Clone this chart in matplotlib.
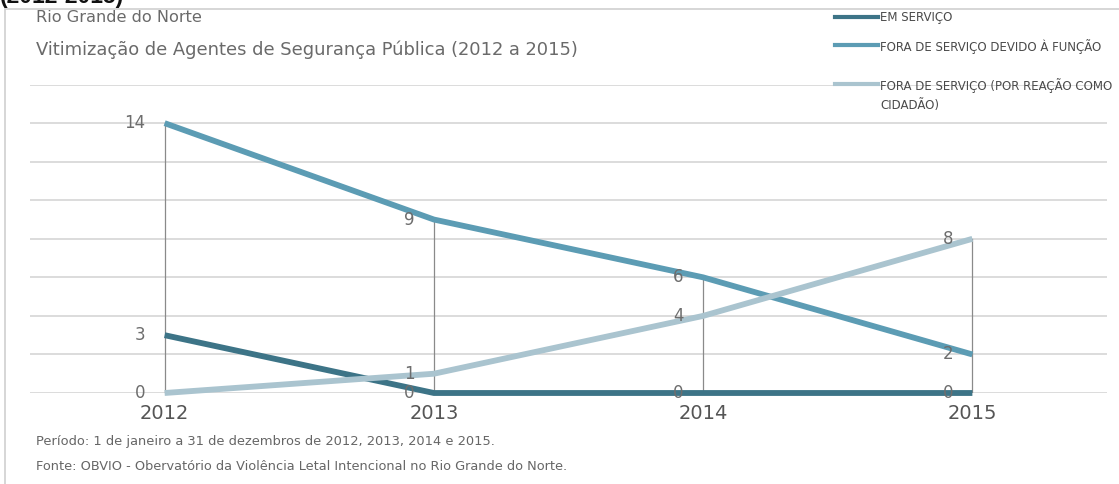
import matplotlib
matplotlib.use('Agg')
import matplotlib.pyplot as plt
import matplotlib.patches as patches
from matplotlib.lines import Line2D

# Data
years = [2012, 2013, 2014, 2015]
em_servico = [3, 0, 0, 0]
fora_funcao = [14, 9, 6, 2]
fora_cidadao = [0, 1, 4, 8]

series_names = ['EM SERVIÇO',
                'FORA DE SERVIÇO DEVIDO À FUNÇÃO',
                'FORA DE SERVIÇO (POR REAÇÃO COMO\nCIDADÃO)']
series_values = [em_servico, fora_funcao, fora_cidadao]
series_colors = ['#3d7487', '#5c9cb4', '#aac4cf']

plt.rcParams['font.family'] = ['DejaVu Sans']

W, H = 1119, 484
fig = plt.figure(figsize=(W / 100, H / 100), dpi=100)
fig.patch.set_facecolor('white')

# outer frame
fig.patches.append(patches.Rectangle((5 / W, -0.05), 1.2, 1 - 9 / H + 0.05,
                                     transform=fig.transFigure, fill=False,
                                     edgecolor='#d0d0d0', linewidth=1.2))

# heading clipped at the very top, as in the source image
fig.text(0, 1 - 3 / H, '(2012-2015)', fontsize=16.5, fontweight='bold',
         color='#111111', ha='left', va='baseline', family='Liberation Sans')

fig.text(36 / W, 1 - 18 / H, 'Rio Grande do Norte', fontsize=11.6,
         color='#6a6a6a', ha='left', va='center')
fig.text(36 / W, 1 - 50 / H,
         'Vitimização de Agentes de Segurança Pública (2012 a 2015)',
         fontsize=12.9, color='#6a6a6a', ha='left', va='center')

fig.text(36 / W, 1 - 442 / H,
         'Período: 1 de janeiro a 31 de dezembros de 2012, 2013, 2014 e 2015.',
         fontsize=9.4, color='#666666', ha='left', va='center')
fig.text(36 / W, 1 - 466 / H,
         'Fonte: OBVIO - Obervatório da Violência Letal Intencional no Rio Grande do Norte.',
         fontsize=9.3, color='#666666', ha='left', va='center')

# axes placed so that 0 -> y=393px, 16 -> y=84.6px
left, right = 30 / W, 1107 / W
bottom, top = (H - 393) / H, (H - 84.6) / H
ax = fig.add_axes([left, bottom, right - left, top - bottom])
ax.set_xlim(2011.5, 2015.5)
ax.set_ylim(0, 16)

for v in range(0, 17, 2):
    ax.axhline(v, color='#d9d9d9', linewidth=1.3, zorder=0)

# drop lines to the highest value each year
for i, yr in enumerate(years):
    top_val = max(s[i] for s in series_values)
    ax.plot([yr, yr], [0, top_val], color='#8a8a8a', linewidth=0.9, zorder=1)

for vals, col in zip(series_values, series_colors):
    ax.plot(years, vals, color=col, linewidth=4.2, solid_capstyle='butt',
            clip_on=False, zorder=3)
    for x, y in zip(years, vals):
        ax.annotate(str(y), (x, y), xytext=(-14, 0), textcoords='offset points',
                    ha='right', va='center', fontsize=12, color='#6d6d6d',
                    zorder=4)

ax.set_xticks(years)
ax.set_xticklabels([str(y) for y in years])
ax.tick_params(axis='x', length=0, pad=8, labelsize=14, labelcolor='#555555')
ax.set_yticks([])
for sp in ax.spines.values():
    sp.set_visible(False)
ax.patch.set_alpha(0)

# legend (manual, to keep the first-line alignment of the wrapped entry)
leg_y = [17, 45, 84]
for name, col, yp in zip(series_names, series_colors, leg_y):
    fy = 1 - yp / H
    fig.lines.append(Line2D([835 / W, 878 / W], [fy, fy], color=col,
                            linewidth=3, transform=fig.transFigure))
    fig.text(880 / W, fy + 6 / H, name, fontsize=8.5, color='#4a4a4a',
             ha='left', va='top', linespacing=1.6)

fig.savefig('out.png', dpi=100, facecolor='white')
